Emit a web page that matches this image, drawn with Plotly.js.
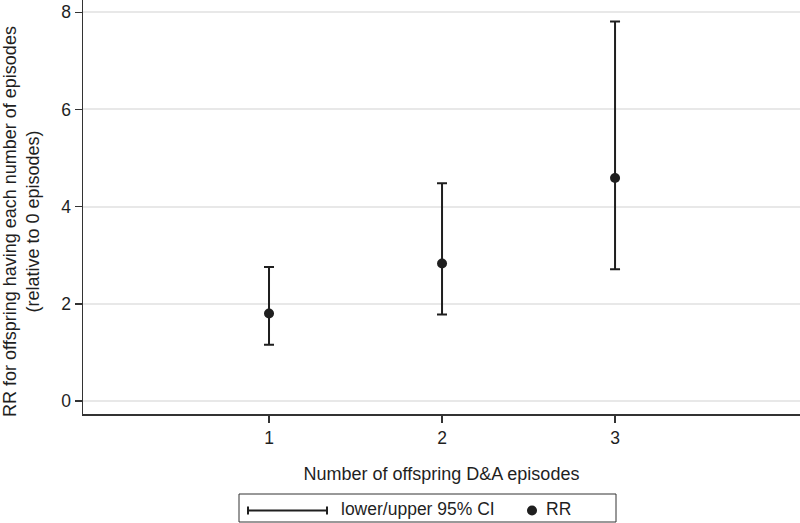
<!DOCTYPE html>
<html>
<head>
<meta charset="utf-8">
<script src="https://cdn.plot.ly/plotly-3.0.1.min.js"></script>
<style>html,body{margin:0;padding:0;background:#fff;}#chart{width:800px;height:523px;}</style>
</head>
<body>
<div id="chart"></div>
<script>
// Data
const episodes = [1, 2, 3];
const rr = [1.80, 2.83, 4.59];
const ciLower = [1.16, 1.78, 2.71];
const ciUpper = [2.76, 4.48, 7.81];
const xTickVals = [1, 2, 3];
const xTickText = ['1', '2', '3'];
const yTickVals = [0, 2, 4, 6, 8];
const legendLabels = ['lower/upper 95% CI', 'RR'];

const W = 800, H = 523;
const M = {l: 83, r: 0, t: 0, b: 109};
const pw = W - M.l - M.r, ph = H - M.t - M.b;
const px = x => (x - M.l) / pw;       // pixel -> paper x
const py = y => (H - M.b - y) / ph;   // pixel -> paper y

const ink = '#1f1f1f';
const FONT = '"Liberation Sans", Arial, Helvetica, sans-serif';
const FS = 18;
const FSL = 17.5;

const trace = {
  type: 'scatter',
  mode: 'markers',
  x: episodes,
  y: rr,
  marker: {color: ink, size: 10},
  error_y: {
    type: 'data', symmetric: false,
    array: rr.map((v, i) => ciUpper[i] - v),
    arrayminus: rr.map((v, i) => v - ciLower[i]),
    color: ink, thickness: 2, width: 5
  },
  showlegend: false,
  hoverinfo: 'x+y'
};

// custom legend (Stata style) in pixel-derived paper coordinates
const legY = 510.5;
const shapes = [
  {type: 'rect', xref: 'paper', yref: 'paper', x0: px(239), x1: px(616), y0: py(494), y1: py(522),
   line: {color: '#333', width: 1}, fillcolor: 'rgba(0,0,0,0)'},
  {type: 'line', xref: 'paper', yref: 'paper', x0: px(248), x1: px(327), y0: py(legY), y1: py(legY),
   line: {color: ink, width: 2}},
  {type: 'line', xref: 'paper', yref: 'paper', x0: px(248), x1: px(248), y0: py(legY - 4), y1: py(legY + 4),
   line: {color: ink, width: 2}},
  {type: 'line', xref: 'paper', yref: 'paper', x0: px(327), x1: px(327), y0: py(legY - 4), y1: py(legY + 4),
   line: {color: ink, width: 2}},
  {type: 'circle', xref: 'paper', yref: 'paper', x0: px(527), x1: px(537), y0: py(legY - 5), y1: py(legY + 5),
   line: {color: ink, width: 0}, fillcolor: ink}
];

const annotations = [
  {text: legendLabels[0], xref: 'paper', yref: 'paper', x: px(339), y: py(legY - 1), xanchor: 'left', yanchor: 'middle',
   showarrow: false, font: {family: FONT, size: FSL, color: ink}},
  {text: legendLabels[1], xref: 'paper', yref: 'paper', x: px(544), y: py(legY - 1), xanchor: 'left', yanchor: 'middle',
   showarrow: false, font: {family: FONT, size: FSL, color: ink}},
  {text: 'RR for offspring having each number of episodes<br>(relative to 0 episodes)', xref: 'paper', yref: 'paper',
   x: px(22), y: py(222), xanchor: 'center', yanchor: 'middle', textangle: -90, showarrow: false,
   font: {family: FONT, size: FS, color: ink}}
];

const layout = {
  width: W, height: H,
  margin: M,
  paper_bgcolor: '#fff', plot_bgcolor: '#fff',
  font: {family: FONT, size: FS, color: ink},
  showlegend: false,
  xaxis: {
    range: [-0.0751, 4.069],
    tickvals: xTickVals, ticktext: xTickText,
    showgrid: false, zeroline: false,
    showline: true, linecolor: '#333', linewidth: 1.5,
    ticks: 'outside', ticklen: 7, tickwidth: 1.5, tickcolor: '#333',
    tickfont: {family: FONT, size: FSL, color: ink},
    title: {text: 'Number of offspring D&A episodes', font: {family: FONT, size: FS, color: ink}, standoff: 21}
  },
  yaxis: {
    range: [-0.2675, 8.253],
    tickvals: yTickVals,
    showgrid: true, gridcolor: '#e8e8e8', gridwidth: 2,
    zeroline: false,
    showline: true, linecolor: '#333', linewidth: 1.5,
    ticks: 'outside', ticklen: 7, tickwidth: 1.5, tickcolor: '#333',
    tickfont: {family: FONT, size: FSL, color: ink}
  },
  shapes: shapes,
  annotations: annotations
};

Plotly.newPlot('chart', [trace], layout, {displayModeBar: false, staticPlot: true});
</script>
</body>
</html>
